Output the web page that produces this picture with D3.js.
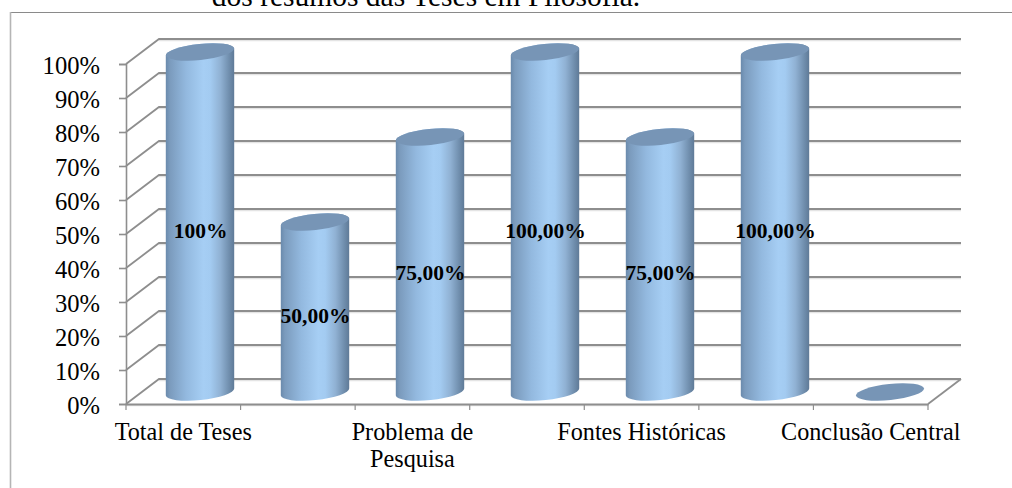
<!DOCTYPE html>
<html><head><meta charset="utf-8">
<script src="https://cdn.jsdelivr.net/npm/d3@7"></script>
<style>html,body{margin:0;padding:0;background:#fff;overflow:hidden}svg{display:block}text{font-family:"Liberation Serif","Times New Roman",serif;fill:#000}</style>
</head><body><svg id="c" width="1012" height="488"></svg>
<script>
const categories = ["c1","c2","c3","c4","c5","c6","c7"];
const tickLabels = [["Total de Teses"],[],["Problema de","Pesquisa"],[],["Fontes Históricas"],[],["Conclusão Central"]];
const values = [100,50,75,100,75,100,0];
const valueLabels = ["100%","50,00%","75,00%","100,00%","75,00%","100,00%",""];
const yTicks = [0,10,20,30,40,50,60,70,80,90,100];
const titleText = "dos resumos das Teses em Filosofia.";

const svg = d3.select("#c");
const x = d3.scaleBand().domain(categories).range([126,928]).paddingInner(0).paddingOuter(0);
const xBar = d3.scaleBand().domain(categories).range([142.5,947.5]).paddingInner(0).paddingOuter(0);
const y = d3.scaleLinear().domain([0,100]).range([404,64]);
const backDx = 33, backDy = -25;
const rx = 34.2, ry = 8, tilt = -6;
const tiltDy = Math.sin(-tilt*Math.PI/180)*rx;

// gradient
const defs = svg.append("defs");
const g = defs.append("linearGradient").attr("id","cyl").attr("x1","0").attr("x2","1").attr("y1","0").attr("y2","0");
[[0,"#6a8aac"],[0.06,"#7b9bbd"],[0.3,"#93b9df"],[0.55,"#a6cef4"],[0.65,"#a3cbf1"],[0.8,"#90b1d3"],[0.93,"#6f8dac"],[1,"#5f7a97"]]
  .forEach(([o,c])=>g.append("stop").attr("offset",o).attr("stop-color",c));

// frame
svg.append("path").attr("d","M10.5,12.5H1012").attr("fill","none").attr("stroke","#8a8a8a").attr("stroke-width",1.2);
svg.append("path").attr("d","M10.5,488V12").attr("fill","none").attr("stroke","#b5b5b5").attr("stroke-width",1.6);

// title
svg.append("text").attr("x",426).attr("y",6).attr("text-anchor","middle").attr("font-size",29.5).text(titleText);

// grid
const gridStroke = "#8e8e8e";
const grid = svg.append("g").attr("fill","none");
yTicks.forEach(t=>{
  const yy = y(t);
  grid.append("path").attr("d",`M${x.range()[0]+backDx},${yy+backDy+1.6}H${x.range()[1]+backDx}`).attr("stroke","#e4e4e4").attr("stroke-width",1.4);
  grid.append("path").attr("d",`M${x.range()[0]},${yy}L${x.range()[0]+backDx},${yy+backDy}H${x.range()[1]+backDx}`).attr("stroke",gridStroke).attr("stroke-width",1.8);
});
// floor
const floor = svg.append("g").attr("fill","none");
floor.append("path").attr("d",`M${x.range()[1]},${y(0)}L${x.range()[1]+backDx},${y(0)+backDy}`).attr("stroke",gridStroke).attr("stroke-width",1.8);
floor.append("path").attr("d",`M${x.range()[0]},${y(0)+1.5}H${x.range()[1]}`).attr("stroke","#e4e4e4").attr("stroke-width",1.4);

// axes
const yAxis = d3.axisLeft(y).tickValues(yTicks).tickSize(7).tickPadding(19).tickFormat(d=>d+"%");
const ya = svg.append("g").attr("transform",`translate(${x.range()[0]},0)`).call(yAxis);
ya.selectAll("path,line").attr("stroke",gridStroke).attr("stroke-width",1.6);
ya.selectAll("text").attr("font-size",24.6).attr("dy",".37em").style("font-family",'"Liberation Serif",serif');

const xAxis = d3.axisBottom(x).tickSize(0).tickPadding(23).tickFormat(()=>"");
const xa = svg.append("g").attr("transform",`translate(0,${y(0)})`).call(xAxis);
xa.selectAll("path").attr("stroke",gridStroke).attr("stroke-width",1.8);
xa.selectAll("line").remove();
d3.range(categories.length+1).forEach(i=>{
  xa.append("line").attr("x1",x.range()[0]+i*x.step()).attr("x2",x.range()[0]+i*x.step()).attr("y1",0).attr("y2",6).attr("stroke",gridStroke).attr("stroke-width",1.2);
});
xa.selectAll(".tick").each(function(d,i){
  const t = d3.select(this).select("text").text(null).attr("dy",0).attr("font-size",24.2).style("font-family",'"Liberation Serif",serif');
  tickLabels[i].forEach((l,k)=>t.append("tspan").attr("x",0).attr("y",36.2+k*27).text(l));
});

// cylinders
const cx = d => xBar(d.c)+xBar.bandwidth()/2;
const cy = v => y(v)+backDy/2+0.5;
const data = categories.map((c,i)=>({c,v:values[i],l:valueLabels[i]}));
const bars = svg.append("g").selectAll("g").data(data).join("g");
bars.filter(d=>d.v>0).append("path").attr("fill","url(#cyl)").attr("d",d=>{
  const X=cx(d), T=cy(d.v), B=cy(0);
  return `M${X-rx},${T+tiltDy}A${rx},${ry} ${tilt} 0 1 ${X+rx},${T-tiltDy}L${X+rx},${B-tiltDy}A${rx},${ry} ${tilt} 0 1 ${X-rx},${B+tiltDy}Z`;
});
bars.append("ellipse").attr("cx",0).attr("cy",0).attr("rx",rx).attr("ry",ry).attr("fill","#7795b6")
  .attr("transform",d=>`translate(${cx(d)},${cy(d.v)}) rotate(${tilt})`);
bars.append("text").attr("x",d=>cx(d)+0.5).attr("y",d=>y(d.v/2)+backDy/2+16.2).attr("text-anchor","middle")
  .attr("font-size",21.5).attr("font-weight","bold").text(d=>d.l);
</script></body></html>
